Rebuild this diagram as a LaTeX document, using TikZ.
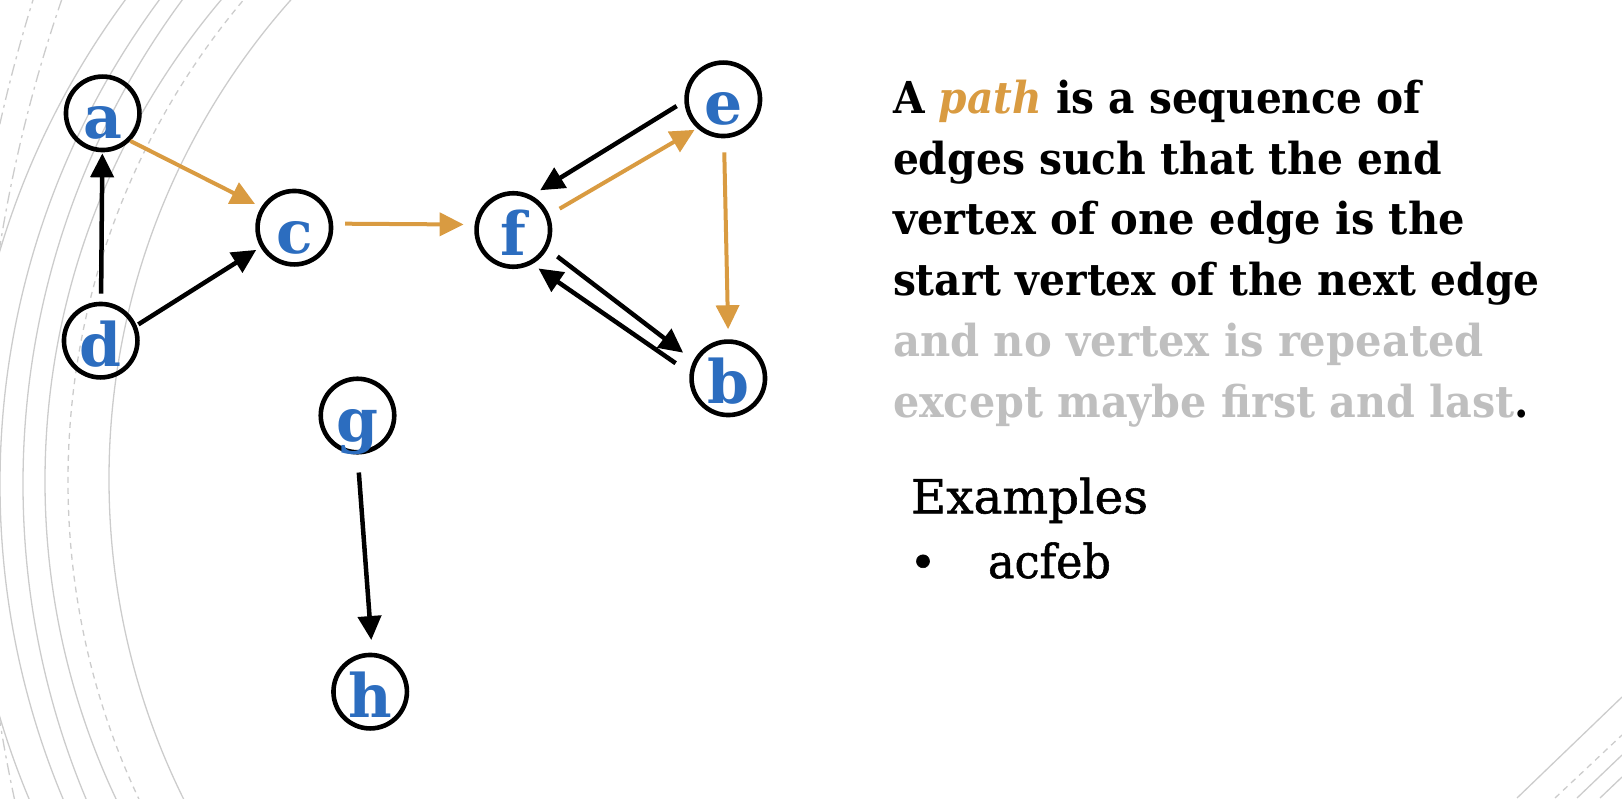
\documentclass[tikz,border=0pt]{standalone}
\usepackage{fontspec}
\usepackage{graphicx}
\setmainfont{DejaVu Serif}
\newfontfamily\regfont{DejaVu Serif}[FakeBold=1.2]
\usetikzlibrary{arrows.meta}
\definecolor{nodeblue}{HTML}{2C6DBF}
\definecolor{pathorange}{HTML}{D99B41}
\definecolor{greytext}{HTML}{BFBFBF}
\definecolor{arcgray}{HTML}{CCCCCC}
\begin{document}
\begin{tikzpicture}[x=1pt,y=-1pt,
  vtx/.style={circle,draw=black,line width=4.6pt,minimum size=73.5pt,inner sep=0pt,
    text=nodeblue,font=\fontsize{60pt}{62pt}\selectfont\bfseries,
    text height=51pt,text depth=0pt},
  blk/.style={draw=black,line width=4.5pt,-{Triangle[length=24pt,width=23pt]}},
  org/.style={draw=pathorange,line width=4pt,-{Triangle[length=24pt,width=23pt]}},
  arcline/.style={draw=arcgray,line width=1.3pt},
  arcdash/.style={arcline,dash pattern=on 6pt off 5pt},
  arcdashdot/.style={arcline,dash pattern=on 12pt off 5pt on 3pt off 5pt},
  txt/.style={anchor=base west,inner sep=0pt,outer sep=0pt},
  bodyfont/.style={font=\fontsize{44pt}{50pt}\selectfont\bfseries}]
\useasboundingbox (0,0) rectangle (1622,798);
% background arcs, left
\begin{scope}
\clip (0,0) rectangle (420,798);
\draw[arcdashdot] (1591,484) circle[radius=1631pt];
\draw[arcdashdot] (1467,484) circle[radius=1486pt];
\draw[arcline] (781,484) circle[radius=815pt];
\draw[arcline] (815,484) circle[radius=815pt];
\draw[arcline] (838,484) circle[radius=815pt];
\draw[arcline] (790,481) circle[radius=745pt];
\draw[arcdash] (815,481) circle[radius=747pt];
\draw[arcline] (831,479) circle[radius=722pt];
\end{scope}
% background arcs, bottom right
\coordinate (br1a) at (1517,798); \coordinate (br1b) at (1622,697);
\coordinate (br2a) at (1555,798); \coordinate (br2b) at (1622,735);
\coordinate (br3a) at (1577,798); \coordinate (br3b) at (1622,755);
\coordinate (br4a) at (1600,798); \coordinate (br4b) at (1622,777);
\draw[arcline] (br1a) -- (br1b);
\draw[arcdash] (br2a) -- (br2b);
\draw[arcline] (br3a) -- (br3b);
\draw[arcline] (br4a) -- (br4b);
% vertices
\node[vtx] (a) at (102.7,113.3) {a};
\node[vtx] (c) at (294.3,227.7) {c};
\node[vtx] (d) at (100.7,340.7) {d};
\node[vtx] (g) at (357.5,415.5) {g};
\node[vtx] (h) at (370.2,691.7) {h};
\node[vtx] (e) at (723.3,99.3) {e};
\node[vtx] (f) at (513.3,230) {f};
\node[vtx] (b) at (728.3,378.3) {b};
% edges
\draw[blk,shorten <=8pt,shorten >=1pt] (d) -- (a);
\draw[org,shorten >=7pt] (a.-45) -- (c.148);
\draw[org,shorten <=12pt,shorten >=11pt] (c.6) -- (f.172);
\draw[blk,shorten <=2pt,shorten >=5pt] (d.23) -- (c.210);
\draw[blk,shorten <=9pt,shorten >=10pt] (e.183) -- (f.62);
\draw[org,shorten <=12pt,shorten >=3pt] (f.23) -- (e.228);
\draw[org,shorten <=14pt,shorten >=10pt] (e.271) -- (b.90);
\draw[blk,shorten <=12.5pt,shorten >=13pt] (f.-29) -- (b.153);
\draw[blk,shorten <=17pt,shorten >=7.6pt] (b.172) -- (f.-61);
\draw[blk,shorten <=18pt,shorten >=12.7pt] (g.270) -- (h.87);
% text
\node[txt] (l1) at (893,113.5) {\resizebox{528pt}{\height}{\fontsize{44pt}{50pt}\selectfont\bfseries A \textcolor{pathorange}{\itshape path} is a sequence of}};
\node[txt] (l2) at (893,174.2) {\resizebox{549pt}{\height}{\fontsize{44pt}{50pt}\selectfont\bfseries edges such that the end}};
\node[txt] (l3) at (893,234.9) {\resizebox{572pt}{\height}{\fontsize{44pt}{50pt}\selectfont\bfseries vertex of one edge is the}};
\node[txt] (l4) at (893,295.6) {\resizebox{647pt}{\height}{\fontsize{44pt}{50pt}\selectfont\bfseries start vertex of the next edge}};
\node[txt,text=greytext] (l5) at (893,356.3) {\resizebox{591pt}{\height}{\fontsize{44pt}{50pt}\selectfont\bfseries and no vertex is repeated}};
\node[txt] (l6) at (893,417) {\resizebox{636pt}{\height}{\fontsize{44pt}{50pt}\selectfont\bfseries\textcolor{greytext}{except maybe first and last}.}};
\node[txt] (ex) at (911,513.3) {\resizebox{237pt}{\height}{\regfont\fontsize{47pt}{54pt}\selectfont Examples}};
\node[anchor=base,inner sep=0pt] (bul) at (923,578) {\regfont\fontsize{45pt}{54pt}\selectfont •};
\node[txt] (ex1) at (988,578) {\resizebox{123pt}{\height}{\regfont\fontsize{47pt}{54pt}\selectfont acfeb}};
\end{tikzpicture}
\end{document}
